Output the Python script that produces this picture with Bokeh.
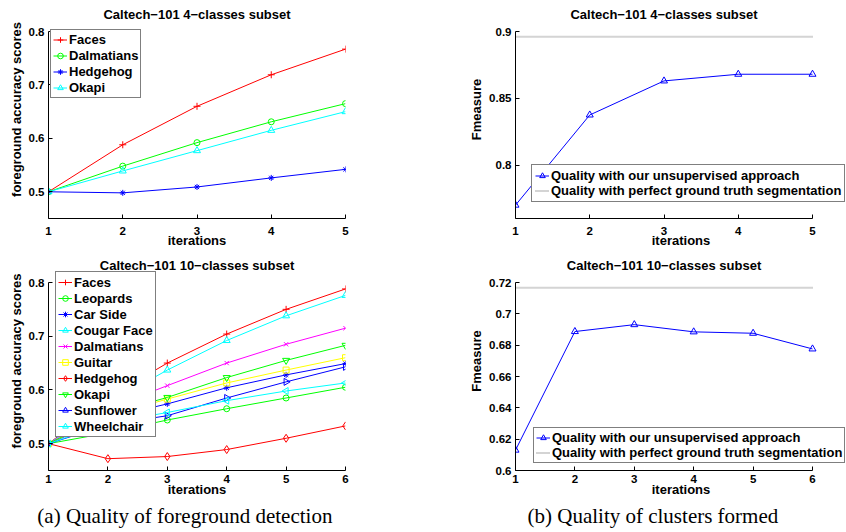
import math
from bokeh.plotting import figure
from bokeh.layouts import column, row
from bokeh.models import Range1d, FixedTicker, CustomJSTickFormatter, Label
from bokeh.embed import file_html
from bokeh.resources import INLINE

# ---------------- data ----------------
iters4 = [1, 2, 3, 4, 5]
fg4_names = ["Faces", "Dalmatians", "Hedgehog", "Okapi"]
fg4_faces = [0.500, 0.588, 0.660, 0.719, 0.767]
fg4_dalmatians = [0.500, 0.548, 0.592, 0.631, 0.665]
fg4_hedgehog = [0.500, 0.498, 0.509, 0.526, 0.542]
fg4_okapi = [0.500, 0.539, 0.577, 0.615, 0.650]

iters10 = [1, 2, 3, 4, 5, 6]
fg10_names = ["Faces", "Leopards", "Car Side", "Cougar Face", "Dalmatians",
              "Guitar", "Hedgehog", "Okapi", "Sunflower", "Wheelchair"]
fg10_faces = [0.500, 0.585, 0.650, 0.704, 0.750, 0.788]
fg10_leopards = [0.500, 0.520, 0.544, 0.565, 0.585, 0.605]
fg10_carside = [0.500, 0.548, 0.574, 0.604, 0.628, 0.649]
fg10_cougar = [0.500, 0.575, 0.637, 0.692, 0.738, 0.776]
fg10_dalmatians = [0.500, 0.565, 0.608, 0.650, 0.685, 0.715]
fg10_guitar = [0.500, 0.552, 0.583, 0.613, 0.637, 0.660]
fg10_hedgehog = [0.500, 0.472, 0.476, 0.489, 0.510, 0.533]
fg10_okapi = [0.500, 0.555, 0.586, 0.623, 0.655, 0.683]
fg10_sunflower = [0.500, 0.535, 0.552, 0.585, 0.615, 0.643]
fg10_wheelchair = [0.500, 0.538, 0.558, 0.580, 0.598, 0.613]

fm4 = [0.770, 0.8375, 0.863, 0.868, 0.868]
fm4_gt = 0.896
fm10 = [0.613, 0.6887, 0.6931, 0.6885, 0.6876, 0.6776]
fm10_gt = 0.7166

fm_names = ["Quality with our unsupervised approach",
            "Quality with perfect ground truth segmentation"]

ylim_fg = (0.45, 0.8)
ylim_fm4 = (0.76, 0.9)
ylim_fm10 = (0.6, 0.72)
yticks_fg = [0.5, 0.6, 0.7, 0.8]
yticks_fm4 = [0.8, 0.85, 0.9]
yticks_fm10 = [0.6, 0.62, 0.64, 0.66, 0.68, 0.7, 0.72]

title4 = "Caltech\u2212101 4\u2212classes subset"
title10 = "Caltech\u2212101 10\u2212classes subset"
xlabel = "iterations"
ylabel_fg = "foreground accuracy scores"
ylabel_fm = "Fmeasure"
cap_a = "(a)  Quality of foreground detection"
cap_b = "(b)  Quality of clusters formed"

# ---------------- styles ----------------
FONT = "Liberation Sans"
SERIF = "Liberation Serif"
R, G, B, C, M, Y = "#ff0000", "#00ff00", "#0000ff", "#00ffff", "#ff00ff", "#ffff00"
GT_COLOR = "#a8a8a8"
HALF = math.pi / 2

style4 = [(R, "cross", 0.0, 7), (G, "circle", 0.0, 6), (B, "asterisk", 0.0, 6), (C, "triangle", 0.0, 7)]
style10 = [(R, "cross", 0.0, 7), (G, "circle", 0.0, 6), (B, "asterisk", 0.0, 6),
           (C, "triangle", 0.0, 7), (M, "x", 0.0, 6), (Y, "square", 0.0, 6),
           (R, "diamond", 0.0, 8), (G, "inverted_triangle", 0.0, 7),
           (B, "triangle", -HALF, 7), (C, "triangle", HALF, 7)]


def make_panel(geom, xlim, ylim, xticks, yticks, title, ylabel, tick_standoff, xlabel_standoff):
    """geom: page-pixel layout of the panel (figure box, frame box, axis-limit pixels)."""
    fx, fy, fw, fh = geom["fig"]
    fr_l, fr_r, fr_b = geom["frame_l"], geom["frame_r"], geom["frame_b"]
    x0p, x1p = geom["xpx"]
    y0p, y1p = geom["ypx"]
    dx = (xlim[1] - xlim[0]) / (x1p - x0p)
    dy = (ylim[1] - ylim[0]) / (y0p - y1p)
    xr = (xlim[0] - (x0p - fr_l) * dx, xlim[1] + (fr_r - x1p) * dx)
    yr = (ylim[0] - (fr_b - y0p) * dy, ylim[1] + (y1p - fy) * dy)
    p = figure(width=fw, height=fh, output_backend="svg", toolbar_location=None, title=None,
               x_range=Range1d(*xr), y_range=Range1d(*yr),
               min_border_left=fr_l - fx, min_border_right=fx + fw - fr_r,
               min_border_top=0, min_border_bottom=fy + fh - fr_b)
    p.outline_line_color = None
    p.grid.visible = False
    p.background_fill_color = "white"
    p.border_fill_color = "white"
    for ax in (p.xaxis[0], p.yaxis[0]):
        ax.major_tick_in = 4
        ax.major_tick_out = 0
        ax.minor_tick_in = 0
        ax.minor_tick_out = 0
        ax.axis_line_color = "black"
        ax.major_tick_line_color = "black"
        ax.major_label_text_font = FONT
        ax.major_label_text_font_size = "11.5px"
        ax.major_label_text_font_style = "bold"
        ax.major_label_text_color = "black"
        ax.axis_label_text_font = FONT
        ax.axis_label_text_font_size = "13px"
        ax.axis_label_text_font_style = "bold"
        ax.axis_label_text_color = "black"
    p.xaxis.major_label_standoff = tick_standoff
    p.yaxis.major_label_standoff = 4
    p.xaxis.bounds = (xticks[0], xticks[-1])
    p.yaxis.bounds = ylim
    p.xaxis.ticker = FixedTicker(ticks=xticks)
    p.yaxis.ticker = FixedTicker(ticks=yticks)
    p.yaxis.formatter = CustomJSTickFormatter(code="return tick.toFixed(2).replace(/0$/, '');")
    p.xaxis.axis_label = xlabel
    p.yaxis.axis_label = ylabel
    p.xaxis.axis_label_standoff = xlabel_standoff
    p.yaxis.axis_label_standoff = 2
    ty = ylim[1] + (y1p - geom["title_y"]) * dy
    p.add_layout(Label(x=(xlim[0] + xlim[1]) / 2, y=ty, text=title, text_align="center",
                       text_baseline="middle", text_font=FONT, text_font_size="13px",
                       text_font_style="bold", text_color="black"))
    return p


def style_legend(p, loc, pad, sp, lh):
    leg = p.legend[0]
    leg.location = loc
    leg.margin = 0
    leg.padding = pad
    leg.spacing = sp
    leg.label_height = lh
    leg.glyph_height = lh
    leg.glyph_width = 14
    leg.label_standoff = 2
    leg.label_text_font = FONT
    leg.label_text_font_size = "13px"
    leg.label_text_font_style = "bold"
    leg.label_text_color = "black"
    leg.border_line_color = "black"
    leg.border_line_width = 1
    leg.background_fill_color = "white"
    leg.background_fill_alpha = 1.0


def add_series(p, xs, ys, name, st):
    color, marker, angle, size = st
    p.line(xs, ys, line_color=color, line_width=1, legend_label=name)
    p.scatter(xs, ys, marker=marker, angle=angle, size=size, line_color=color,
              fill_color=None, line_width=1, legend_label=name)


geom_tl = dict(fig=(0, 0, 423, 251), frame_l=48, frame_r=345, frame_b=218,
               xpx=(48, 345), ypx=(218, 31), title_y=14)
geom_bl = dict(fig=(0, 251, 423, 248), frame_l=48, frame_r=345, frame_b=470,
               xpx=(48, 345), ypx=(470, 282), title_y=265)
geom_tr = dict(fig=(423, 0, 423, 251), frame_l=515, frame_r=846, frame_b=218,
               xpx=(515, 812), ypx=(218, 31), title_y=14)
geom_br = dict(fig=(423, 251, 423, 248), frame_l=515, frame_r=846, frame_b=470,
               xpx=(515, 812), ypx=(470, 282), title_y=265)

# ---------------- top-left ----------------
p_tl = make_panel(geom_tl, (iters4[0], iters4[-1]), ylim_fg, iters4, yticks_fg,
                  title4, ylabel_fg, 8, -5)
for ys, name, st in zip([fg4_faces, fg4_dalmatians, fg4_hedgehog, fg4_okapi], fg4_names, style4):
    add_series(p_tl, iters4, ys, name, st)
style_legend(p_tl, (2, 120), 2, 1, 15)

# ---------------- bottom-left ----------------
p_bl = make_panel(geom_bl, (iters10[0], iters10[-1]), ylim_fg, iters10, yticks_fg,
                  title10, ylabel_fg, 4, -4)
series10 = [fg10_faces, fg10_leopards, fg10_carside, fg10_cougar, fg10_dalmatians,
            fg10_guitar, fg10_hedgehog, fg10_okapi, fg10_sunflower, fg10_wheelchair]
for ys, name, st in zip(series10, fg10_names, style10):
    add_series(p_bl, iters10, ys, name, st)
style_legend(p_bl, (7, 33), 2, 0, 16)

# ---------------- top-right ----------------
p_tr = make_panel(geom_tr, (iters4[0], iters4[-1]), ylim_fm4, iters4, yticks_fm4,
                  title4, ylabel_fm, 8, -5)
add_series(p_tr, iters4, fm4, fm_names[0], (B, "triangle", 0.0, 7))
p_tr.line([iters4[0], iters4[-1]], [fm4_gt, fm4_gt], line_color=GT_COLOR, line_width=2,
          line_dash="1 1", legend_label=fm_names[1])
style_legend(p_tr, (16, 16), 3, 0, 15)

# ---------------- bottom-right ----------------
p_br = make_panel(geom_br, (iters10[0], iters10[-1]), ylim_fm10, iters10, yticks_fm10,
                  title10, ylabel_fm, 4, -4)
add_series(p_br, iters10, fm10, fm_names[0], (B, "triangle", 0.0, 7))
p_br.line([iters10[0], iters10[-1]], [fm10_gt, fm10_gt], line_color=GT_COLOR, line_width=2,
          line_dash="1 1", legend_label=fm_names[1])
style_legend(p_br, (18, 7), 2, 0, 15)

# ---------------- captions ----------------
p_cap = figure(width=846, height=32, output_backend="svg", toolbar_location=None, title=None,
               x_range=Range1d(0, 846), y_range=Range1d(0, 32), min_border=0,
               x_axis_type=None, y_axis_type=None)
p_cap.outline_line_color = None
p_cap.grid.visible = False
for xc, txt in [(187, cap_a), (655, cap_b)]:
    p_cap.add_layout(Label(x=xc, y=16, text=txt, text_align="center", text_baseline="middle",
                           text_font=SERIF, text_font_size="21px", text_color="black"))

layout = column(row(p_tl, p_tr), row(p_bl, p_br), p_cap)

with open("out.html", "w") as f:
    f.write(file_html(layout, INLINE))
